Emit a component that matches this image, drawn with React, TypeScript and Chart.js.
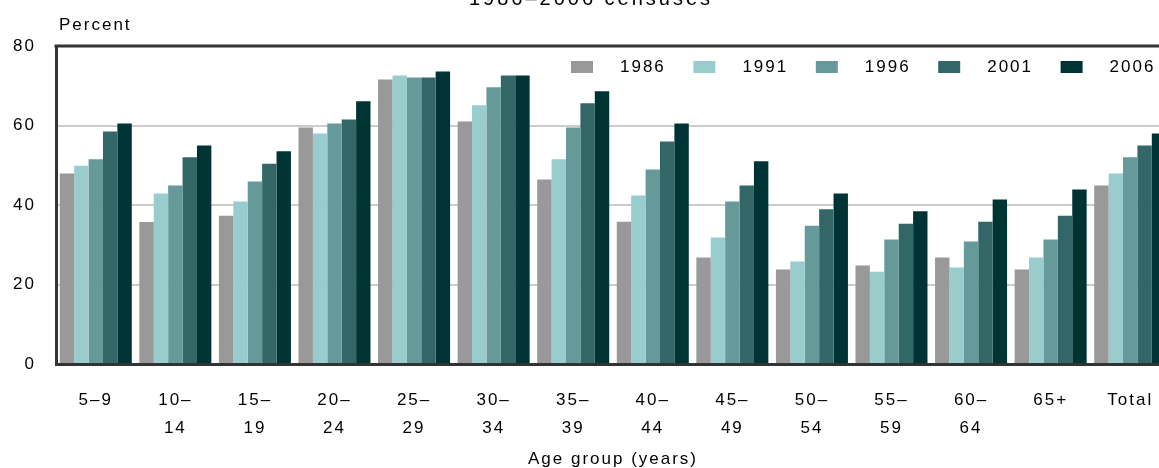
import { useEffect, useRef } from "react";
import { Chart, registerables } from "chart.js";

Chart.register(...registerables);

const FONT = '"Liberation Sans", Arial, Helvetica, sans-serif';

// Category tick labels (multi-line)
const ageGroups: (string | string[])[] = [
  "5–9",
  ["10–", "14"],
  ["15–", "19"],
  ["20–", "24"],
  ["25–", "29"],
  ["30–", "34"],
  ["35–", "39"],
  ["40–", "44"],
  ["45–", "49"],
  ["50–", "54"],
  ["55–", "59"],
  ["60–", "64"],
  "65+",
  "Total",
];

const years = ["1986", "1991", "1996", "2001", "2006"];

const v1986 = [47.9, 35.7, 37.3, 59.5, 71.6, 61.0, 46.4, 35.8, 26.8, 23.8, 24.8, 26.8, 23.8, 44.9];
const v1991 = [49.9, 42.9, 40.9, 58.0, 72.6, 65.1, 51.5, 42.4, 31.8, 25.8, 23.2, 24.3, 26.8, 47.9];
const v1996 = [51.5, 44.9, 45.9, 60.5, 72.1, 69.6, 59.5, 48.9, 40.9, 34.8, 31.3, 30.8, 31.3, 52.0];
const v2001 = [58.5, 52.0, 50.4, 61.5, 72.1, 72.6, 65.6, 56.0, 44.9, 38.9, 35.3, 35.8, 37.3, 55.0];
const v2006 = [60.5, 55.0, 53.5, 66.1, 73.6, 72.6, 68.6, 60.5, 51.0, 42.9, 38.4, 41.4, 43.9, 58.0];

const seriesValues = [v1986, v1991, v1996, v2001, v2006];
const seriesColors = ["#999999", "#99cccc", "#669999", "#336666", "#003333"];

const yTicks = [0, 20, 40, 60, 80];

const chartTitle = "1986–2006 censuses";
const yAxisTitle = "Percent";
const xAxisTitle = "Age group (years)";

export default function App() {
  const ref = useRef<HTMLCanvasElement>(null);

  useEffect(() => {
    const canvas = ref.current!;

    const spacingPlugin = {
      id: "letterSpacing",
      beforeUpdate(c: any) {
        (c.ctx as any).letterSpacing = "2px";
      },
      beforeDraw(c: any) {
        (c.ctx as any).letterSpacing = "2px";
      },
    };

    const decorPlugin = {
      id: "decor",
      afterDraw(c: any) {
        const ctx = c.ctx as CanvasRenderingContext2D;
        const area = c.chartArea;
        ctx.save();
        // top frame line
        ctx.fillStyle = "#333333";
        ctx.fillRect(area.left - 1.5, area.top - 1.5, area.right - area.left + 3, 3);

        // y axis title
        ctx.fillStyle = "#000";
        (ctx as any).letterSpacing = "2px";
        ctx.font = `17px ${FONT}`;
        ctx.textAlign = "left";
        ctx.textBaseline = "middle";
        ctx.fillText(yAxisTitle, 59, 25);

        // chart title (mostly cut off at the top)
        ctx.font = `20px ${FONT}`;
        (ctx as any).letterSpacing = "3px";
        ctx.textAlign = "center";
        ctx.textBaseline = "alphabetic";
        ctx.fillText(chartTitle, 591, 5);

        // legend inside plot area
        (ctx as any).letterSpacing = "2px";
        ctx.font = `17px ${FONT}`;
        ctx.textAlign = "left";
        ctx.textBaseline = "middle";
        c.data.datasets.forEach((ds: any, i: number) => {
          const x = 571 + i * 122.4;
          ctx.fillStyle = ds.backgroundColor;
          ctx.fillRect(x, 61, 22, 12);
          ctx.fillStyle = "#000";
          ctx.fillText(ds.label, x + 49, 67.5);
        });
        ctx.restore();
      },
    };

    const chart = new Chart(canvas, {
      type: "bar",
      data: {
        labels: ageGroups as any,
        datasets: years.map((y, i) => ({
          label: y,
          data: seriesValues[i],
          backgroundColor: seriesColors[i],
          borderWidth: 0,
          categoryPercentage: 0.905,
          barPercentage: 1,
        })),
      },
      options: {
        responsive: false,
        animation: false,
        devicePixelRatio: 1,
        layout: { padding: { top: 46, right: 10, left: 0, bottom: 0 } },
        plugins: {
          legend: { display: false },
          title: { display: false },
          tooltip: { enabled: false },
        },
        scales: {
          x: {
            grid: { display: false, drawTicks: false },
            border: { display: true, color: "#333333", width: 3 },
            ticks: {
              color: "#000",
              font: { family: FONT, size: 17, lineHeight: 28 / 17 },
              padding: 22,
              maxRotation: 0,
              autoSkip: false,
            },
            title: {
              display: true,
              text: xAxisTitle,
              color: "#000",
              font: { family: FONT, size: 17, lineHeight: 18 / 17 },
              padding: 0,
            },
            afterFit(s: any) {
              s.height = 104;
            },
          },
          y: {
            min: 0,
            max: 80,
            afterBuildTicks(s: any) {
              s.ticks = yTicks.map((v) => ({ value: v }));
            },
            ticks: {
              color: "#000",
              font: { family: FONT, size: 17 },
              padding: 20,
            },
            grid: { color: "#cccccc", lineWidth: 2, drawTicks: false },
            border: { display: true, color: "#333333", width: 3 },
            afterFit(s: any) {
              s.width = 56;
            },
          },
        },
      },
      plugins: [spacingPlugin, decorPlugin],
    });

    return () => chart.destroy();
  }, []);

  return (
    <div
      style={{
        position: "fixed",
        left: 0,
        top: 0,
        width: 1159,
        height: 468,
        overflow: "hidden",
        background: "#fff",
      }}
    >
      <canvas
        ref={ref}
        width={1180}
        height={468}
        style={{ display: "block", width: 1180, height: 468 }}
      />
    </div>
  );
}
